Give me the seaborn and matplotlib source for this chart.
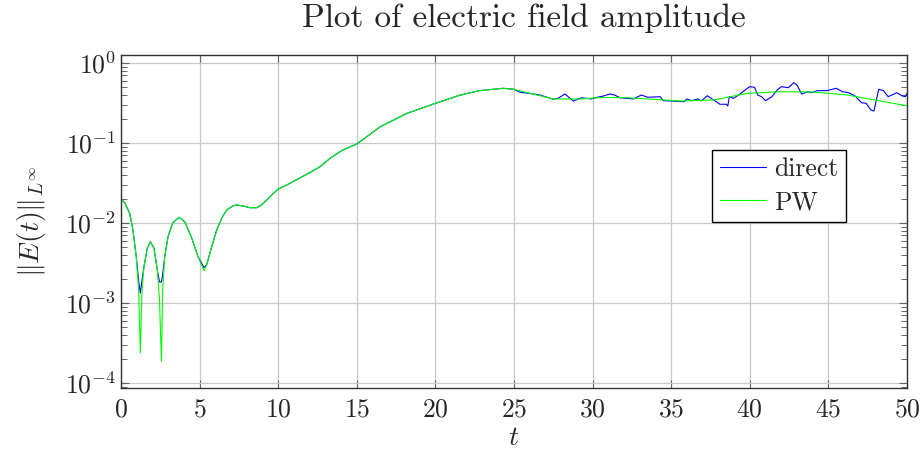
import numpy as np
import pandas as pd
import matplotlib
matplotlib.use('Agg')
import matplotlib.pyplot as plt
from matplotlib.ticker import LogLocator, NullFormatter
import seaborn as sns

# PW solution (smooth)
t_pw = [0.0, 0.23, 0.55, 0.76, 0.97, 1.12, 1.23, 1.34, 1.46, 1.67, 1.87, 2.10, 2.31,
        2.45, 2.57, 2.65, 2.78, 2.99, 3.30, 3.69, 4.05, 4.47, 4.90, 5.28, 5.45, 5.77,
        6.09, 6.40, 6.72, 7.14, 7.36, 7.78, 8.20, 8.63, 8.95, 9.27, 9.59, 10.0, 10.54,
        11.2, 12.0, 12.66, 13.3, 14.1, 15.0, 16.5, 18.2, 20.0, 21.6, 22.8, 24.3, 25.0,
        26.2, 27.5, 29.2, 30.5, 32.0, 34.0, 35.6, 37.7, 39.8, 41.9, 44.0, 46.2, 48.3, 50.0]
e_pw = [0.0200, 0.01794, 0.01322, 0.00818, 0.00379, 0.001454, 0.000237, 0.001454,
        0.002843, 0.00483, 0.00584, 0.00483, 0.002585, 0.00109, 0.000188, 0.001454,
        0.00379, 0.00674, 0.01009, 0.01178, 0.01038, 0.00674, 0.00379, 0.002534,
        0.002985, 0.00506, 0.00818, 0.01145, 0.01454, 0.01645, 0.0168, 0.01631, 0.01553,
        0.01553, 0.0168, 0.01939, 0.02239, 0.0266, 0.02985, 0.035, 0.0425, 0.0506,
        0.0644, 0.0818, 0.0972, 0.160, 0.235, 0.313, 0.398, 0.451, 0.483, 0.469, 0.410,
        0.355, 0.355, 0.370, 0.370, 0.350, 0.335, 0.345, 0.416, 0.438, 0.434, 0.398,
        0.335, 0.292]

# direct solver
t_direct = [0.0, 0.23, 0.55, 0.76, 0.97, 1.12, 1.23, 1.34, 1.46, 1.67, 1.87, 2.10, 2.31,
            2.45, 2.57, 2.65, 2.78, 2.99, 3.30, 3.69, 4.05, 4.47, 4.90, 5.28, 5.45, 5.77,
            6.09, 6.40, 6.72, 7.14, 7.36, 7.78, 8.20, 8.63, 8.95, 9.27, 9.59, 10.0, 10.54,
            11.2, 12.0, 12.66, 13.3, 14.1, 15.0, 16.5, 18.2, 20.0, 21.6, 22.8, 24.3, 25.0,
            25.4, 26.0, 26.65, 27.5, 27.8, 28.24, 28.77, 29.3, 29.9, 30.3, 30.7, 31.1, 31.4,
            31.74, 32.6, 33.1, 33.5, 34.3, 34.5, 35.0, 35.8, 36.0, 36.3, 36.7, 36.9, 37.3,
            37.7, 38.1, 38.5, 38.6, 38.7, 38.95, 39.3, 39.7, 40.0, 40.3, 40.5, 40.75, 41.0,
            41.4, 41.7, 42.0, 42.45, 42.8, 43.0, 43.3, 43.7, 43.9, 44.3, 44.9, 45.5, 45.9,
            46.3, 46.7, 47.1, 47.4, 47.7, 47.9, 48.2, 48.5, 48.8, 49.35, 49.7, 49.9, 50.0]
e_direct = [0.0200, 0.01794, 0.01322, 0.00818, 0.00379, 0.00190, 0.00133, 0.00194,
            0.00284, 0.00483, 0.00584, 0.00483, 0.00259, 0.00183, 0.00183, 0.00224,
            0.00379, 0.00674, 0.01009, 0.01178, 0.01038, 0.00674, 0.00379, 0.00278,
            0.00300, 0.00506, 0.00818, 0.01145, 0.01454, 0.01645, 0.0168, 0.01631, 0.01553,
            0.01553, 0.0168, 0.01939, 0.02239, 0.0266, 0.02985, 0.035, 0.0425, 0.0506,
            0.0644, 0.0818, 0.0972, 0.160, 0.235, 0.313, 0.398, 0.451, 0.483, 0.469,
            0.430, 0.416, 0.398, 0.352, 0.362, 0.410, 0.335, 0.368, 0.355, 0.373, 0.387,
            0.410, 0.398, 0.368, 0.355, 0.398, 0.373, 0.379, 0.338, 0.335, 0.328, 0.355,
            0.338, 0.355, 0.335, 0.390, 0.345, 0.305, 0.305, 0.290, 0.379, 0.362, 0.398,
            0.460, 0.506, 0.497, 0.398, 0.379, 0.338, 0.379, 0.451, 0.506, 0.491, 0.567,
            0.531, 0.410, 0.438, 0.425, 0.451, 0.451, 0.483, 0.438, 0.425, 0.387, 0.319,
            0.313, 0.259, 0.251, 0.469, 0.451, 0.379, 0.425, 0.387, 0.379, 0.418]

sns.set_style('ticks')
plt.rcParams['font.family'] = 'serif'
plt.rcParams['font.serif'] = ['cmr10']
plt.rcParams['mathtext.fontset'] = 'cm'
plt.rcParams['axes.formatter.use_mathtext'] = True

fig = plt.figure(figsize=(9.22, 4.5), dpi=100)
ax = fig.add_axes([121 / 922, 1 - 388 / 450, 786 / 922, 333 / 450])

df_direct = pd.DataFrame({'t': t_direct, 'E': e_direct})
df_pw = pd.DataFrame({'t': t_pw, 'E': e_pw})
sns.lineplot(data=df_direct, x='t', y='E', ax=ax, color='#0000ff', lw=0.8, label='direct')
sns.lineplot(data=df_pw, x='t', y='E', ax=ax, color='#00ff00', lw=0.8, label='PW')

ax.set_yscale('log')
ax.set_xlim(0, 50)
ax.set_ylim(10 ** -4.0625, 10 ** 0.1)
ax.set_xticks(np.arange(0, 51, 5))
ax.set_yticks([1e-4, 1e-3, 1e-2, 1e-1, 1e0])
ax.yaxis.set_minor_locator(LogLocator(base=10, subs=np.arange(2, 10), numticks=20))
ax.yaxis.set_minor_formatter(NullFormatter())
ax.grid(True, which='major', color='#c8c8c8', lw=0.9)
ax.tick_params(which='both', direction='in', top=True, right=True, labelsize=18.5,
               color='#666666')
ax.tick_params(which='major', length=6, width=0.8)
ax.tick_params(axis='y', which='minor', length=4, width=0.7, left=True, right=True)
ax.tick_params(axis='x', pad=7)
for s in ax.spines.values():
    s.set_color('#333333')
    s.set_linewidth(1.0)

ax.set_title('Plot of electric field amplitude', fontsize=24, pad=20, x=0.512)
ax.set_xlabel('$t$', fontsize=20, labelpad=2)
ax.set_ylabel(r'$\|E(t)\|_{L^\infty}$', fontsize=20, labelpad=12)

leg = ax.legend(loc='upper left', bbox_to_anchor=(0.752, 0.715), borderaxespad=0,
                fontsize=18.5, frameon=True, fancybox=False, framealpha=1,
                edgecolor='black', handlelength=1.8, borderpad=0.3, labelspacing=0.35,
                handletextpad=0.3)
leg.get_frame().set_linewidth(1.0)

fig.savefig('out.png', dpi=100)
